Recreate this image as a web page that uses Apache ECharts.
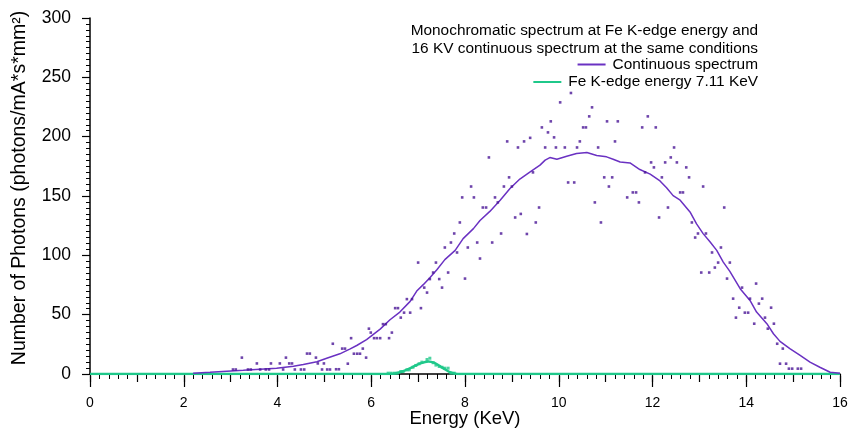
<!DOCTYPE html>
<html>
<head>
<meta charset="utf-8">
<script src="https://cdn.jsdelivr.net/npm/echarts@6/dist/echarts.min.js"></script>
<style>
html,body{margin:0;padding:0;background:#fff;}
#c{width:849px;height:428px;}
</style>
</head>
<body>
<div id="c"></div>
<script>
// Continuous spectrum (smoothed line)
var contE = [2.2,2.56,2.92,3.27,3.63,3.98,4.34,4.55,4.84,5.05,5.33,5.54,5.69,5.90,6.19,6.4,6.61,6.83,6.97,7.11,7.25,7.40,7.57,7.79,7.96,8.18,8.32,8.53,8.75,8.96,9.17,9.39,9.6,9.71,9.81,9.96,10.17,10.38,10.6,10.81,11.02,11.16,11.31,11.52,11.73,11.95,12.16,12.30,12.44,12.59,12.8,12.94,13.08,13.23,13.37,13.51,13.65,13.87,14.08,14.22,14.44,14.58,14.72,14.93,15.15,15.36,15.57,15.79,16.0];
var contV = [0.7,1.5,2.4,3.2,4.1,4.9,6.6,8,10.3,13.3,17,21,24,28.9,37.8,45.7,52.2,61.2,69.9,75.3,81.2,87.9,96.4,104.2,114.1,122.5,129.4,137,146.4,156.3,164.3,170.3,176,180.2,182.4,181,183.5,185.8,186.6,184.1,183,181,178.7,177.9,172.3,168.4,162.7,157,150.3,146.5,136.6,126.5,118.3,111.2,104.2,94.3,86.5,71.9,62,52.2,42.4,33.9,27.5,21.3,15.6,10,5.7,1.5,0.7];
// Continuous spectrum measured points
var dotE = [3.05,3.11,3.24,3.37,3.43,3.56,3.63,3.75,3.82,3.86,4.05,4.12,4.18,4.25,4.31,4.37,4.50,4.57,4.63,4.69,4.82,4.86,4.95,4.99,5.06,5.12,5.18,5.25,5.31,5.38,5.44,5.50,5.57,5.63,5.70,5.76,5.82,5.89,5.95,5.99,6.06,6.12,6.19,6.25,6.31,6.38,6.44,6.51,6.57,6.63,6.70,6.76,6.83,6.87,7.00,7.06,7.13,7.19,7.25,7.32,7.38,7.45,7.51,7.57,7.64,7.70,7.77,7.83,7.89,7.94,8.00,8.06,8.13,8.19,8.26,8.32,8.38,8.45,8.51,8.58,8.64,8.70,8.77,8.83,8.90,8.94,9.00,9.07,9.13,9.19,9.26,9.32,9.39,9.45,9.51,9.58,9.64,9.71,9.77,9.83,9.90,9.94,10.03,10.13,10.20,10.26,10.33,10.39,10.45,10.52,10.58,10.65,10.71,10.77,10.84,10.90,10.97,11.03,11.07,11.14,11.20,11.26,11.46,11.58,11.65,11.71,11.78,11.84,11.90,11.97,12.03,12.07,12.14,12.20,12.27,12.33,12.39,12.46,12.52,12.59,12.65,12.72,12.78,12.84,12.91,12.97,13.04,13.08,13.14,13.21,13.27,13.33,13.40,13.46,13.53,13.59,13.65,13.72,13.78,13.85,13.91,13.97,14.04,14.08,14.17,14.21,14.27,14.34,14.40,14.46,14.53,14.59,14.66,14.72,14.78,14.85,14.91,14.98,15.10,15.17];
var dotV = [3.8,3.8,13.8,3.8,3.8,8.9,3.8,3.8,3.8,8.9,8.9,3.8,13.8,8.9,8.9,3.8,3.8,3.8,17.2,17.2,13.8,8.9,3.8,8.9,3.8,3.8,25.5,4,4,21.4,21.4,8.7,30.2,17.1,17.1,17.1,21.4,13.8,38.2,34.9,30.2,30.2,30.2,42.0,42.0,30.2,34.9,55.5,55.5,47.5,51.7,63.1,51.7,63.1,93.9,55.5,72.8,68.6,80.0,85.5,93.9,80.0,72.8,106.6,85.5,110.8,118.4,102.4,127.7,148.8,80.4,106.6,158.0,148.8,110.8,97.3,140.3,140.3,182.5,110.8,148.8,144.6,118.4,158.0,196.0,165.7,158.0,131.9,190.9,134.9,196.0,118.0,199.0,169.9,127.7,140.3,207.8,190.9,203.6,212.9,199.4,190.9,228.9,190.9,161.4,236.8,161.4,190.9,196.0,207.8,207.8,217.1,224.7,144.6,190.9,127.7,165.7,212.9,158.0,165.7,196.0,212.9,148.8,153.0,153.0,144.6,207.8,169.9,217.1,178.3,174.1,207.8,131.9,165.7,178.3,140.3,182.5,190.9,178.3,153.0,153.0,174.1,165.7,127.7,115.0,118.4,85.5,158.0,118.4,85.5,102.4,89.7,93.9,106.6,140.3,80.4,93.9,63.5,47.5,55.9,72.8,51.7,51.7,63.5,42.4,76.2,59.3,63.5,47.5,38.2,55.9,42.4,25.5,8.7,21.4,8.7,4.5,4.5,4.5,4.5];
// Fe K-edge line
var feE = [0,6.4,6.5,6.61,6.75,6.9,7.05,7.22,7.35,7.47,7.58,7.68,7.8,7.9,16];
var feV = [0,0,0.4,1.5,3.5,6.3,9,10.5,9.3,6.5,3.8,1.5,0.3,0,0];
// Fe K-edge measured points
var feDotE = [6.36,6.42,6.49,6.55,6.63,6.68,6.76,6.81,6.89,6.95,7.02,7.08,7.19,7.25,7.32,7.38,7.45,7.51,7.57,7.64,7.70,7.77];
var feDotV = [0.7,0.7,0.7,0.7,2.1,2.1,3.5,3.5,5.7,7.2,8.6,10,12.2,13.3,9.5,7.5,6.3,5.7,4.9,4.9,0.7,0.7];

var xTicks = [0,2,4,6,8,10,12,14,16];
var header = ['Monochromatic spectrum at Fe K-edge energy and', '16 KV continuous spectrum at the same conditions'];
var names = ['Continuous spectrum', 'Fe K-edge energy 7.11 KeV'];
var yTitle = 'Number of Photons (photons/mA*s*mm²)';

function zip(a, b) { return a.map(function (v, i) { return [v, b[i]]; }); }

var FONT = 'Liberation Sans, Arial, sans-serif';
var PURPLE = '#6a31c2';
var PURPLE_DOT = '#4a1596';
var GREEN = '#1fc88a';

var chart = echarts.init(document.getElementById('c'), null, {renderer: 'canvas'});
chart.setOption({
  animation: false,
  backgroundColor: '#fff',
  textStyle: {fontFamily: FONT},
  grid: {left: 90, right: 9, top: 18, bottom: 54, containLabel: false, outerBoundsMode: 'none'},
  graphic: header.map(function (t, i) {
    return {type: 'text', x: 758, y: 31 + i * 17.5,
      style: {text: t, align: 'right', verticalAlign: 'middle', font: '15.4px ' + FONT, fill: '#000'}};
  }).concat([{
    type: 'text', x: 20, y: 188, rotation: Math.PI / 2,
    style: {text: yTitle, align: 'center', verticalAlign: 'middle', font: '19.5px ' + FONT, fill: '#000'}
  }]),
  legend: names.map(function (n, i) {
    return {data: [n], orient: 'vertical', right: 91, top: 57 + i * 17.5, padding: 0,
      icon: 'rect', itemWidth: 28, itemHeight: 2, itemGap: 0,
      textStyle: {fontSize: 15.4, color: '#000', fontFamily: FONT, padding: [0, 0, 0, 2]}};
  }),
  xAxis: [{
    type: 'value', min: 0, max: 16, interval: 1, offset: 2,
    name: 'Energy (KeV)', nameLocation: 'middle', nameGap: 33, nameMoveOverlap: false,
    nameTextStyle: {fontSize: 18.5, color: '#000', fontFamily: FONT},
    axisLine: {show: true, lineStyle: {color: '#000', width: 1.5}},
    axisTick: {show: true, length: 8, lineStyle: {color: '#000', width: 1.2}},
    minorTick: {show: true, splitNumber: 5, length: 5, lineStyle: {color: '#000', width: 1}},
    axisLabel: {fontSize: 14, color: '#000', margin: 20, fontFamily: FONT,
      formatter: function (v) { return xTicks.indexOf(v) >= 0 ? String(v) : ''; }},
    splitLine: {show: false}, minorSplitLine: {show: false}
  }, {
    type: 'value', min: 0, max: 16, interval: 2, offset: 2, position: 'bottom',
    axisLine: {show: false},
    axisTick: {show: true, length: 11, lineStyle: {color: '#000', width: 1.2}},
    axisLabel: {show: false}, splitLine: {show: false}
  }],
  yAxis: {
    type: 'value', min: 0, max: 300, interval: 50, offset: 1,
    axisLine: {show: true, lineStyle: {color: '#000', width: 1.5}},
    axisTick: {show: true, length: 8, lineStyle: {color: '#000', width: 1.2}},
    minorTick: {show: true, splitNumber: 10, length: 4, lineStyle: {color: '#000', width: 1}},
    axisLabel: {fontSize: 17.5, color: '#000', margin: 18, fontFamily: FONT},
    splitLine: {show: false}, minorSplitLine: {show: false}
  },
  series: [
    {name: names[1], type: 'line', data: zip(feE, feV), showSymbol: false, smooth: 0.3,
      lineStyle: {color: GREEN, width: 2.5}, itemStyle: {color: GREEN}, z: 2},
    {type: 'scatter', data: zip(feDotE, feDotV), symbol: 'rect', symbolSize: 3,
      itemStyle: {color: GREEN}, z: 3, silent: true},
    {name: names[0], type: 'line', data: zip(contE, contV), showSymbol: false,
      lineStyle: {color: PURPLE, width: 1.5}, itemStyle: {color: PURPLE}, z: 4},
    {type: 'scatter', data: zip(dotE, dotV), symbol: 'rect', symbolSize: 2.6,
      itemStyle: {color: PURPLE_DOT}, z: 5, silent: true}
  ]
});
</script>
</body>
</html>
